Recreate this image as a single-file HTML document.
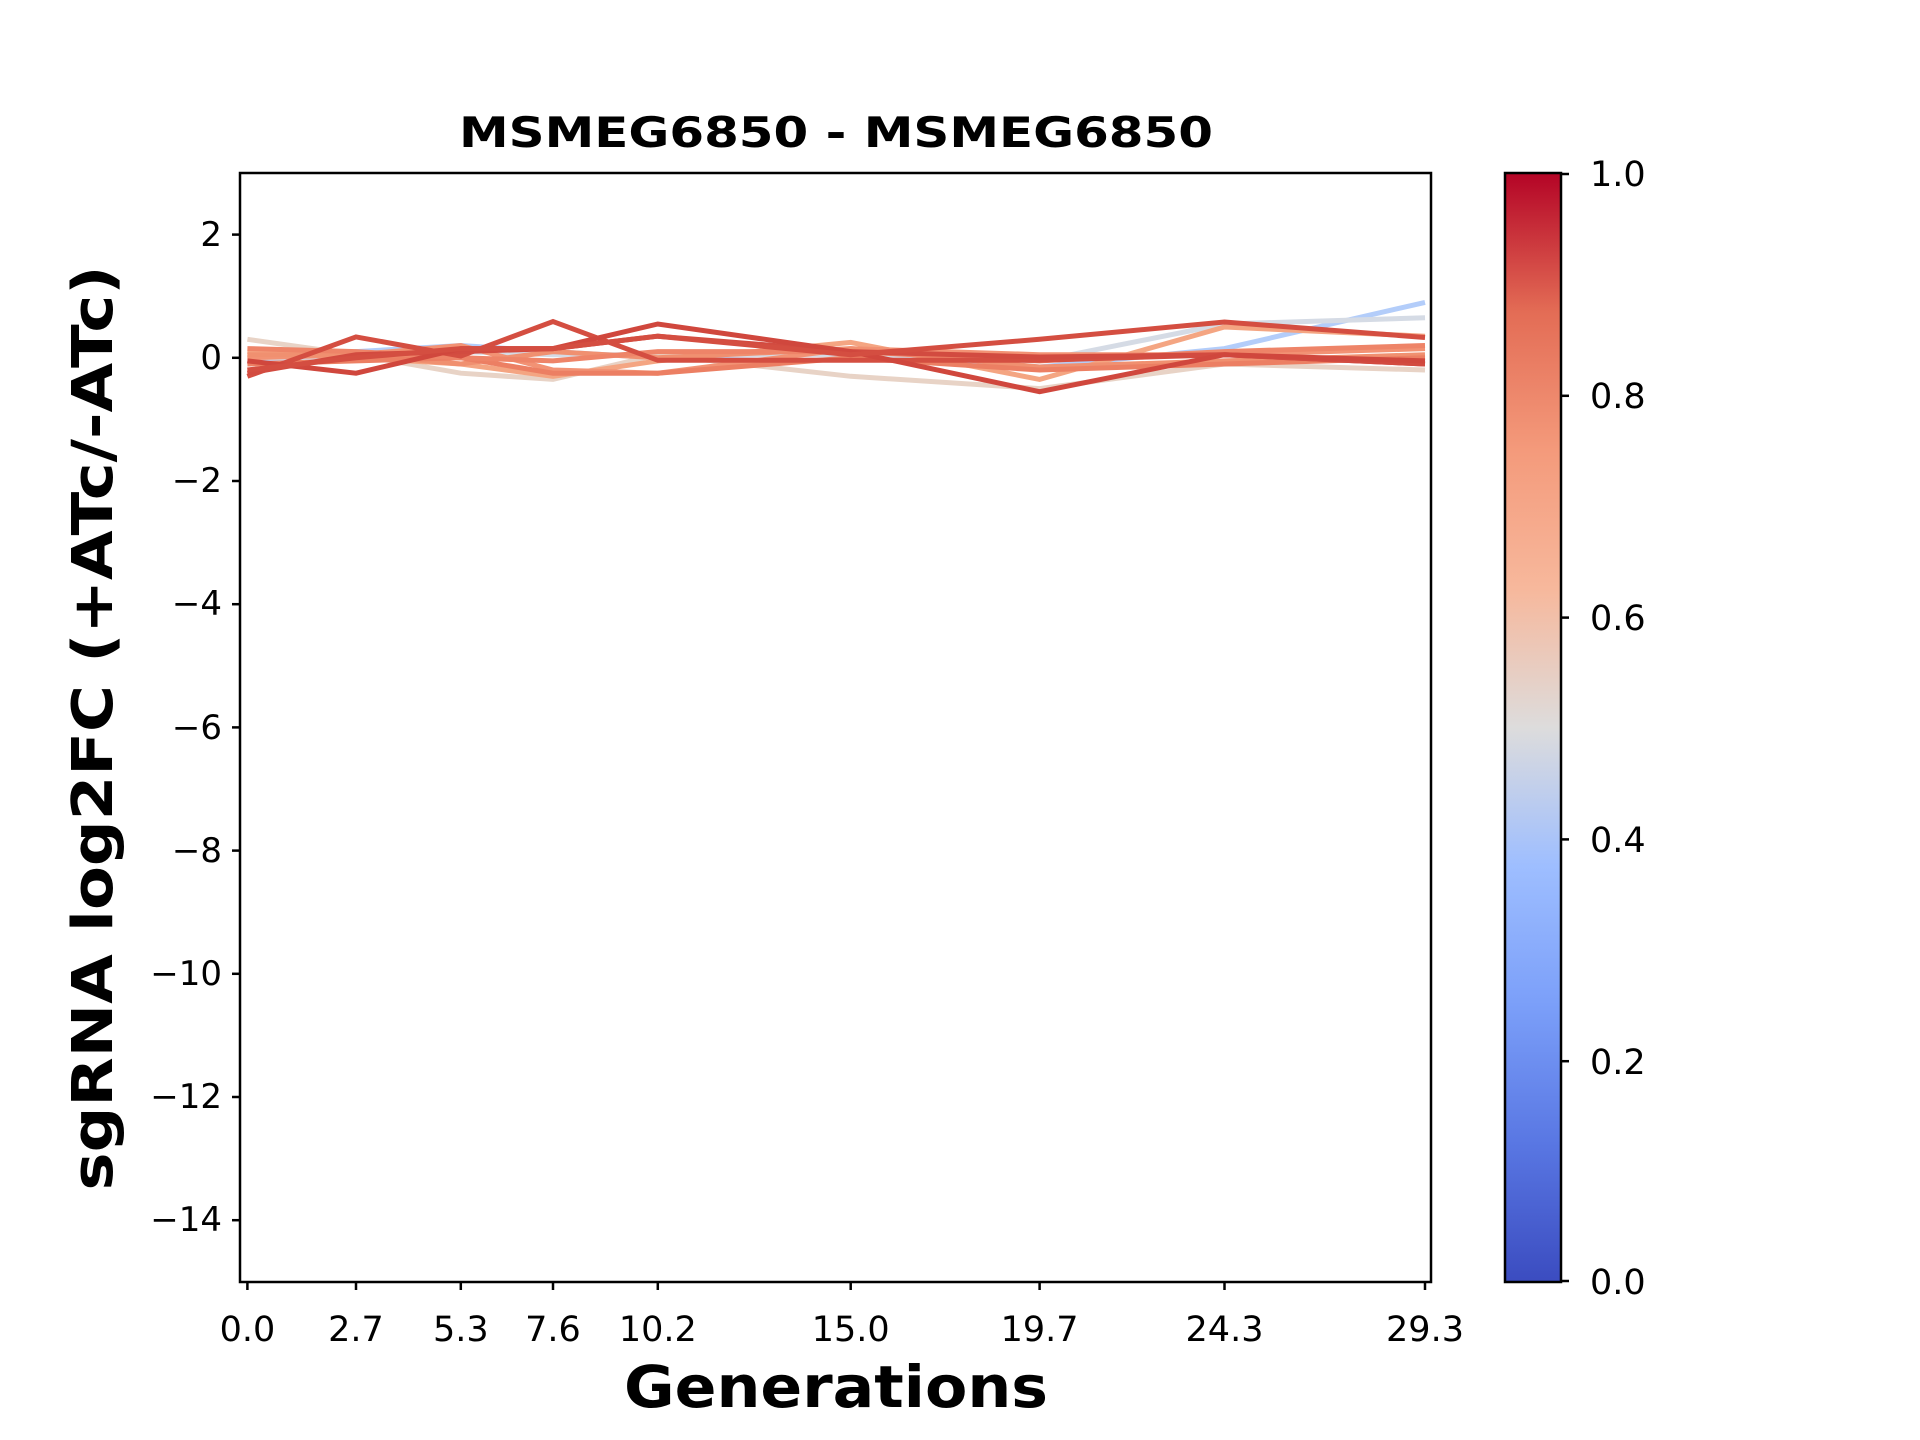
<!DOCTYPE html>
<html><head><meta charset="utf-8"><style>html,body{margin:0;padding:0;background:#fff}svg{display:block}</style></head>
<body>
<svg width="1920" height="1440" viewBox="0 0 1920 1440" xmlns="http://www.w3.org/2000/svg" font-family="'DejaVu Sans','Liberation Sans',sans-serif">
<defs>
<linearGradient id="cw" x1="0" y1="1" x2="0" y2="0">
<stop offset="0" stop-color="#3b4cc0"/>
<stop offset="0.125" stop-color="#5977e3"/>
<stop offset="0.25" stop-color="#7b9ff9"/>
<stop offset="0.375" stop-color="#9ebeff"/>
<stop offset="0.5" stop-color="#dddcdc"/>
<stop offset="0.625" stop-color="#f7b89c"/>
<stop offset="0.75" stop-color="#f49a7b"/>
<stop offset="0.875" stop-color="#e36c55"/>
<stop offset="1" stop-color="#b40426"/>
</linearGradient>
<clipPath id="ax"><rect x="240" y="173" width="1191" height="1109"/></clipPath>
</defs>
<rect width="1920" height="1440" fill="#fff"/>
<g clip-path="url(#ax)" fill="none" stroke-width="5" stroke-linejoin="miter">
<polyline stroke="#b3cdfa" points="247.4,364 356,351.6 460.8,345.5 553,351.6 657.8,357.8 850.7,351.6 1039.6,367 1224.5,348.6 1425,302.4"/>
<polyline stroke="#d5dbe5" points="247.4,357.8 356,357.8 460.8,351.6 553,354.7 657.8,354.7 850.7,354.7 1039.6,360.9 1224.5,324 1425,317.8"/>
<polyline stroke="#e8d3c6" points="247.4,339.3 356,354.7 460.8,373.2 553,379.4 657.8,354.7 850.7,376.3 1039.6,388.6 1224.5,364 1425,370"/>
<polyline stroke="#f4a582" points="247.4,351.6 356,357.8 460.8,364 553,376.3 657.8,360.9 850.7,342.4 1039.6,379.4 1224.5,327 1425,336.2"/>
<polyline stroke="#f29274" points="247.4,357.8 356,354.7 460.8,345.5 553,370 657.8,373.2 850.7,348.6 1039.6,354.7 1224.5,354.7 1425,348.6"/>
<polyline stroke="#f09070" points="247.4,354.7 356,354.7 460.8,364 553,351.6 657.8,357.8 850.7,348.6 1039.6,367 1224.5,360.9 1425,354.7"/>
<polyline stroke="#ec7f63" points="247.4,364 356,360.9 460.8,357.8 553,373.2 657.8,373.2 850.7,357.8 1039.6,370 1224.5,364 1425,357.8"/>
<polyline stroke="#ee8468" points="247.4,348.6 356,351.6 460.8,357.8 553,360.9 657.8,351.6 850.7,351.6 1039.6,360.9 1224.5,351.6 1425,345.5"/>
<polyline stroke="#d44e41" points="247.4,376.3 356,336.9 460.8,356 553,321.5 657.8,360.3 850.7,360.3 1039.6,360.3 1224.5,354.7 1425,364"/>
<polyline stroke="#d24b40" points="247.4,373.2 356,354.7 460.8,351.6 553,348.6 657.8,336.2 850.7,351.6 1039.6,357 1224.5,354.7 1425,364"/>
<polyline stroke="#d0473d" points="247.4,360.9 356,373.2 460.8,348.6 553,348.6 657.8,324 850.7,351.6 1039.6,391.7 1224.5,354.7 1425,360.9"/>
<polyline stroke="#d44e41" points="247.4,370 356,357.8 460.8,348.6 553,348.6 657.8,336.2 850.7,354.7 1039.6,339.3 1224.5,322 1425,337.5"/>
</g>
<rect x="240" y="173" width="1191" height="1109" fill="none" stroke="#000" stroke-width="2.5"/>
<g stroke="#000" stroke-width="2.5">
<line x1="232" y1="234.6" x2="240" y2="234.6"/><line x1="232" y1="357.8" x2="240" y2="357.8"/>
<line x1="232" y1="481" x2="240" y2="481"/><line x1="232" y1="604.2" x2="240" y2="604.2"/>
<line x1="232" y1="727.4" x2="240" y2="727.4"/><line x1="232" y1="850.6" x2="240" y2="850.6"/>
<line x1="232" y1="973.8" x2="240" y2="973.8"/><line x1="232" y1="1097" x2="240" y2="1097"/>
<line x1="232" y1="1220.2" x2="240" y2="1220.2"/>
<line x1="247.4" y1="1282" x2="247.4" y2="1290"/><line x1="356" y1="1282" x2="356" y2="1290"/>
<line x1="460.8" y1="1282" x2="460.8" y2="1290"/><line x1="553" y1="1282" x2="553" y2="1290"/>
<line x1="657.8" y1="1282" x2="657.8" y2="1290"/><line x1="850.7" y1="1282" x2="850.7" y2="1290"/>
<line x1="1039.6" y1="1282" x2="1039.6" y2="1290"/><line x1="1224.5" y1="1282" x2="1224.5" y2="1290"/>
<line x1="1425" y1="1282" x2="1425" y2="1290"/>
</g>
<g font-size="34" text-anchor="end" fill="#000">
<text x="222" y="246">2</text><text x="222" y="369">0</text><text x="222" y="492">−2</text>
<text x="222" y="615">−4</text><text x="222" y="739">−6</text><text x="222" y="862">−8</text>
<text x="222" y="985">−10</text><text x="222" y="1108">−12</text><text x="222" y="1231">−14</text>
</g>
<g font-size="35" text-anchor="middle" fill="#000">
<text x="247.4" y="1341">0.0</text><text x="356" y="1341">2.7</text><text x="460.8" y="1341">5.3</text>
<text x="553" y="1341">7.6</text><text x="657.8" y="1341">10.2</text><text x="850.7" y="1341">15.0</text>
<text x="1039.6" y="1341">19.7</text><text x="1224.5" y="1341">24.3</text><text x="1425" y="1341">29.3</text>
</g>
<text x="836" y="1407" font-size="58" font-weight="bold" text-anchor="middle" textLength="424" lengthAdjust="spacingAndGlyphs">Generations</text>
<text x="836" y="147" font-size="42" font-weight="bold" text-anchor="middle" textLength="754" lengthAdjust="spacingAndGlyphs">MSMEG6850 - MSMEG6850</text>
<text transform="translate(112,728) rotate(-90)" font-size="56" font-weight="bold" text-anchor="middle" textLength="925" lengthAdjust="spacingAndGlyphs">sgRNA log2FC (+ATc/-ATc)</text>
<rect x="1505" y="173" width="56" height="1109" fill="url(#cw)" stroke="#000" stroke-width="2.5"/>
<g stroke="#000" stroke-width="2.5">
<line x1="1561" y1="174" x2="1569" y2="174"/><line x1="1561" y1="395.8" x2="1569" y2="395.8"/>
<line x1="1561" y1="617.6" x2="1569" y2="617.6"/><line x1="1561" y1="839.4" x2="1569" y2="839.4"/>
<line x1="1561" y1="1061.2" x2="1569" y2="1061.2"/><line x1="1561" y1="1281" x2="1569" y2="1281"/>
</g>
<g font-size="35" fill="#000">
<text x="1590" y="186">1.0</text><text x="1590" y="408">0.8</text><text x="1590" y="630">0.6</text>
<text x="1590" y="852">0.4</text><text x="1590" y="1074">0.2</text><text x="1590" y="1294">0.0</text>
</g>
</svg>
</body></html>
